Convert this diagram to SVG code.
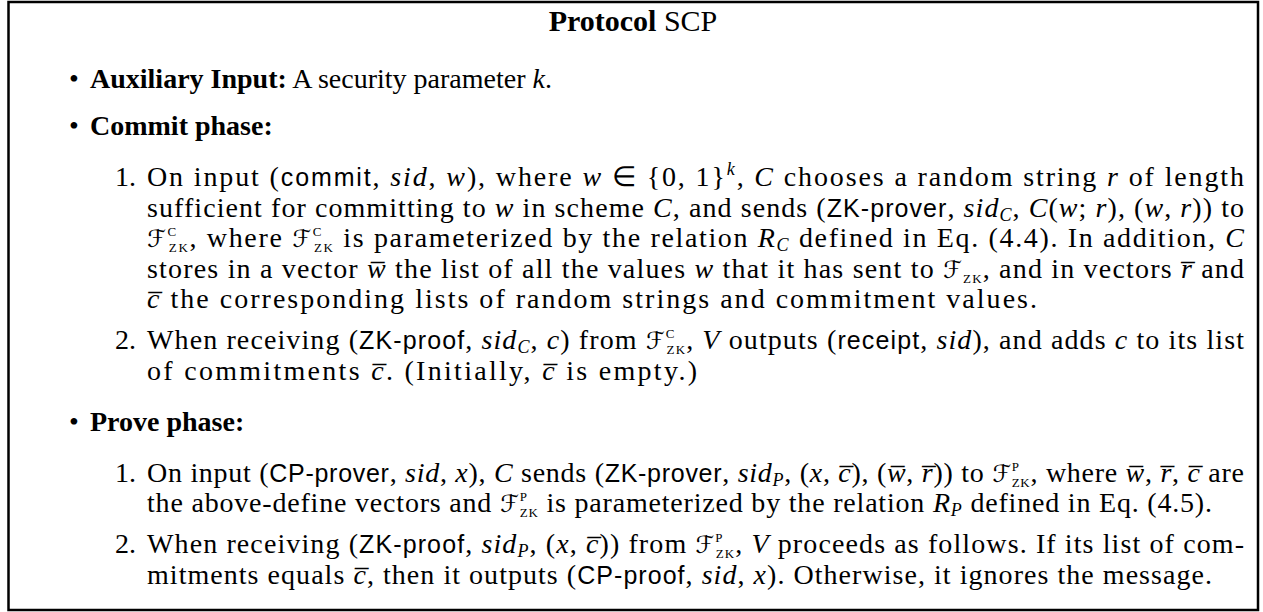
<svg xmlns="http://www.w3.org/2000/svg" width="1263" height="612" viewBox="0 0 1263 612">
<style>
text{font-family:"Liberation Serif",serif;font-size:28px;fill:#000}
.b{font-weight:bold}
.i{font-style:italic}
.s{font-family:"Liberation Sans",sans-serif;font-size:25px}
.cal{font-family:"DejaVu Serif","DejaVu Sans",serif;font-style:italic;font-size:24px}
.sc{font-size:13px;font-style:normal}
.sub{font-size:18px}
.sup{font-size:18px}
</style>
<rect x="8.5" y="2" width="1249.5" height="608" fill="#fff" stroke="#000" stroke-width="2.5"/>
<g id="title"><text x="633" y="31" text-anchor="middle" style="font-size:30px"><tspan class="b">Protocol</tspan> SCP</text></g>
<g id="aux">
<text x="74" y="88" text-anchor="middle">•</text>
<text x="90" y="88"><tspan class="b">Auxiliary Input:</tspan> A security parameter <tspan class="i">k</tspan>.</text>
</g>
<g id="commit">
<text x="74" y="135" text-anchor="middle">•</text>
<text x="90" y="135" class="b">Commit phase:</text>
<text x="136" y="186" text-anchor="end">1.</text>
<text x="147" y="186" textLength="1097" lengthAdjust="spacing">On input (<tspan class="s">commit</tspan>, <tspan class="i">sid</tspan>, <tspan class="i">w</tspan>), where <tspan class="i">w</tspan> ∈ {0, 1}<tspan class="i sup" dy="-11">k</tspan><tspan dy="11">, </tspan><tspan class="i">C</tspan> chooses a random string <tspan class="i">r</tspan> of length</text>
<text x="147" y="216.6" textLength="1097" lengthAdjust="spacing">sufficient for committing to <tspan class="i">w</tspan> in scheme <tspan class="i">C</tspan>, and sends (<tspan class="s">ZK-prover</tspan>, <tspan class="i">sid</tspan><tspan class="i sub" dy="4">C</tspan><tspan dy="-4">, </tspan><tspan class="i">C</tspan>(<tspan class="i">w</tspan>; <tspan class="i">r</tspan>), (<tspan class="i">w</tspan>, <tspan class="i">r</tspan>)) to</text>
<text x="147" y="247.2" textLength="1097" lengthAdjust="spacing"><tspan class="cal">ℱ</tspan><tspan class="sc" dy="-11">C</tspan><tspan class="sc" dx="-9" dy="16">ZK</tspan><tspan dy="-5">, where </tspan><tspan class="cal">ℱ</tspan><tspan class="sc" dy="-11">C</tspan><tspan class="sc" dx="-9" dy="16">ZK</tspan><tspan dy="-5"> is parameterized by the relation </tspan><tspan class="i">R</tspan><tspan class="i sub" dy="4">C</tspan><tspan dy="-4"> defined in Eq. (4.4). In addition, </tspan><tspan class="i">C</tspan></text>
<text x="147" y="277.8" textLength="1097" lengthAdjust="spacing">stores in a vector <tspan class="i">w&#x305;</tspan> the list of all the values <tspan class="i">w</tspan> that it has sent to <tspan class="cal">ℱ</tspan><tspan class="sc" dy="5">ZK</tspan><tspan dy="-5">, and in vectors </tspan><tspan class="i">r&#x305;</tspan> and</text>
<text x="147" y="308.4" textLength="890" lengthAdjust="spacing"><tspan class="i">c&#x305;</tspan> the corresponding lists of random strings and commitment values.</text>
<text x="136" y="349.2" text-anchor="end">2.</text>
<text x="147" y="349.2" textLength="1097" lengthAdjust="spacing">When receiving (<tspan class="s">ZK-proof</tspan>, <tspan class="i">sid</tspan><tspan class="i sub" dy="4">C</tspan><tspan dy="-4">, </tspan><tspan class="i">c</tspan>) from <tspan class="cal">ℱ</tspan><tspan class="sc" dy="-11">C</tspan><tspan class="sc" dx="-9" dy="16">ZK</tspan><tspan dy="-5">, </tspan><tspan class="i">V</tspan> outputs (<tspan class="s">receipt</tspan>, <tspan class="i">sid</tspan>), and adds <tspan class="i">c</tspan> to its list</text>
<text x="147" y="379.8" textLength="550" lengthAdjust="spacing">of commitments <tspan class="i">c&#x305;</tspan>. (Initially, <tspan class="i">c&#x305;</tspan> is empty.)</text>
</g>
<g id="prove">
<text x="74" y="430.8" text-anchor="middle">•</text>
<text x="90" y="430.8" class="b">Prove phase:</text>
<text x="136" y="481.8" text-anchor="end">1.</text>
<text x="147" y="481.8" textLength="1097" lengthAdjust="spacing">On input (<tspan class="s">CP-prover</tspan>, <tspan class="i">sid</tspan>, <tspan class="i">x</tspan>), <tspan class="i">C</tspan> sends (<tspan class="s">ZK-prover</tspan>, <tspan class="i">sid</tspan><tspan class="i sub" dy="4">P</tspan><tspan dy="-4">, (</tspan><tspan class="i">x</tspan>, <tspan class="i">c&#x305;</tspan>), (<tspan class="i">w&#x305;</tspan>, <tspan class="i">r&#x305;</tspan>)) to <tspan class="cal">ℱ</tspan><tspan class="sc" dy="-11">P</tspan><tspan class="sc" dx="-8" dy="16">ZK</tspan><tspan dy="-5">, where </tspan><tspan class="i">w&#x305;</tspan>, <tspan class="i">r&#x305;</tspan>, <tspan class="i">c&#x305;</tspan> are</text>
<text x="147" y="512.4" textLength="1065" lengthAdjust="spacing">the above-define vectors and <tspan class="cal">ℱ</tspan><tspan class="sc" dy="-11">P</tspan><tspan class="sc" dx="-8" dy="16">ZK</tspan><tspan dy="-5"> is parameterized by the relation </tspan><tspan class="i">R</tspan><tspan class="i sub" dy="4">P</tspan><tspan dy="-4"> defined in Eq. (4.5).</tspan></text>
<text x="136" y="553.2" text-anchor="end">2.</text>
<text x="147" y="553.2" textLength="1097" lengthAdjust="spacing">When receiving (<tspan class="s">ZK-proof</tspan>, <tspan class="i">sid</tspan><tspan class="i sub" dy="4">P</tspan><tspan dy="-4">, (</tspan><tspan class="i">x</tspan>, <tspan class="i">c&#x305;</tspan>)) from <tspan class="cal">ℱ</tspan><tspan class="sc" dy="-11">P</tspan><tspan class="sc" dx="-8" dy="16">ZK</tspan><tspan dy="-5">, </tspan><tspan class="i">V</tspan> proceeds as follows. If its list of com-</text>
<text x="147" y="583.8" textLength="1065" lengthAdjust="spacing">mitments equals <tspan class="i">c&#x305;</tspan>, then it outputs (<tspan class="s">CP-proof</tspan>, <tspan class="i">sid</tspan>, <tspan class="i">x</tspan>). Otherwise, it ignores the message.</text>
</g>
</svg>
